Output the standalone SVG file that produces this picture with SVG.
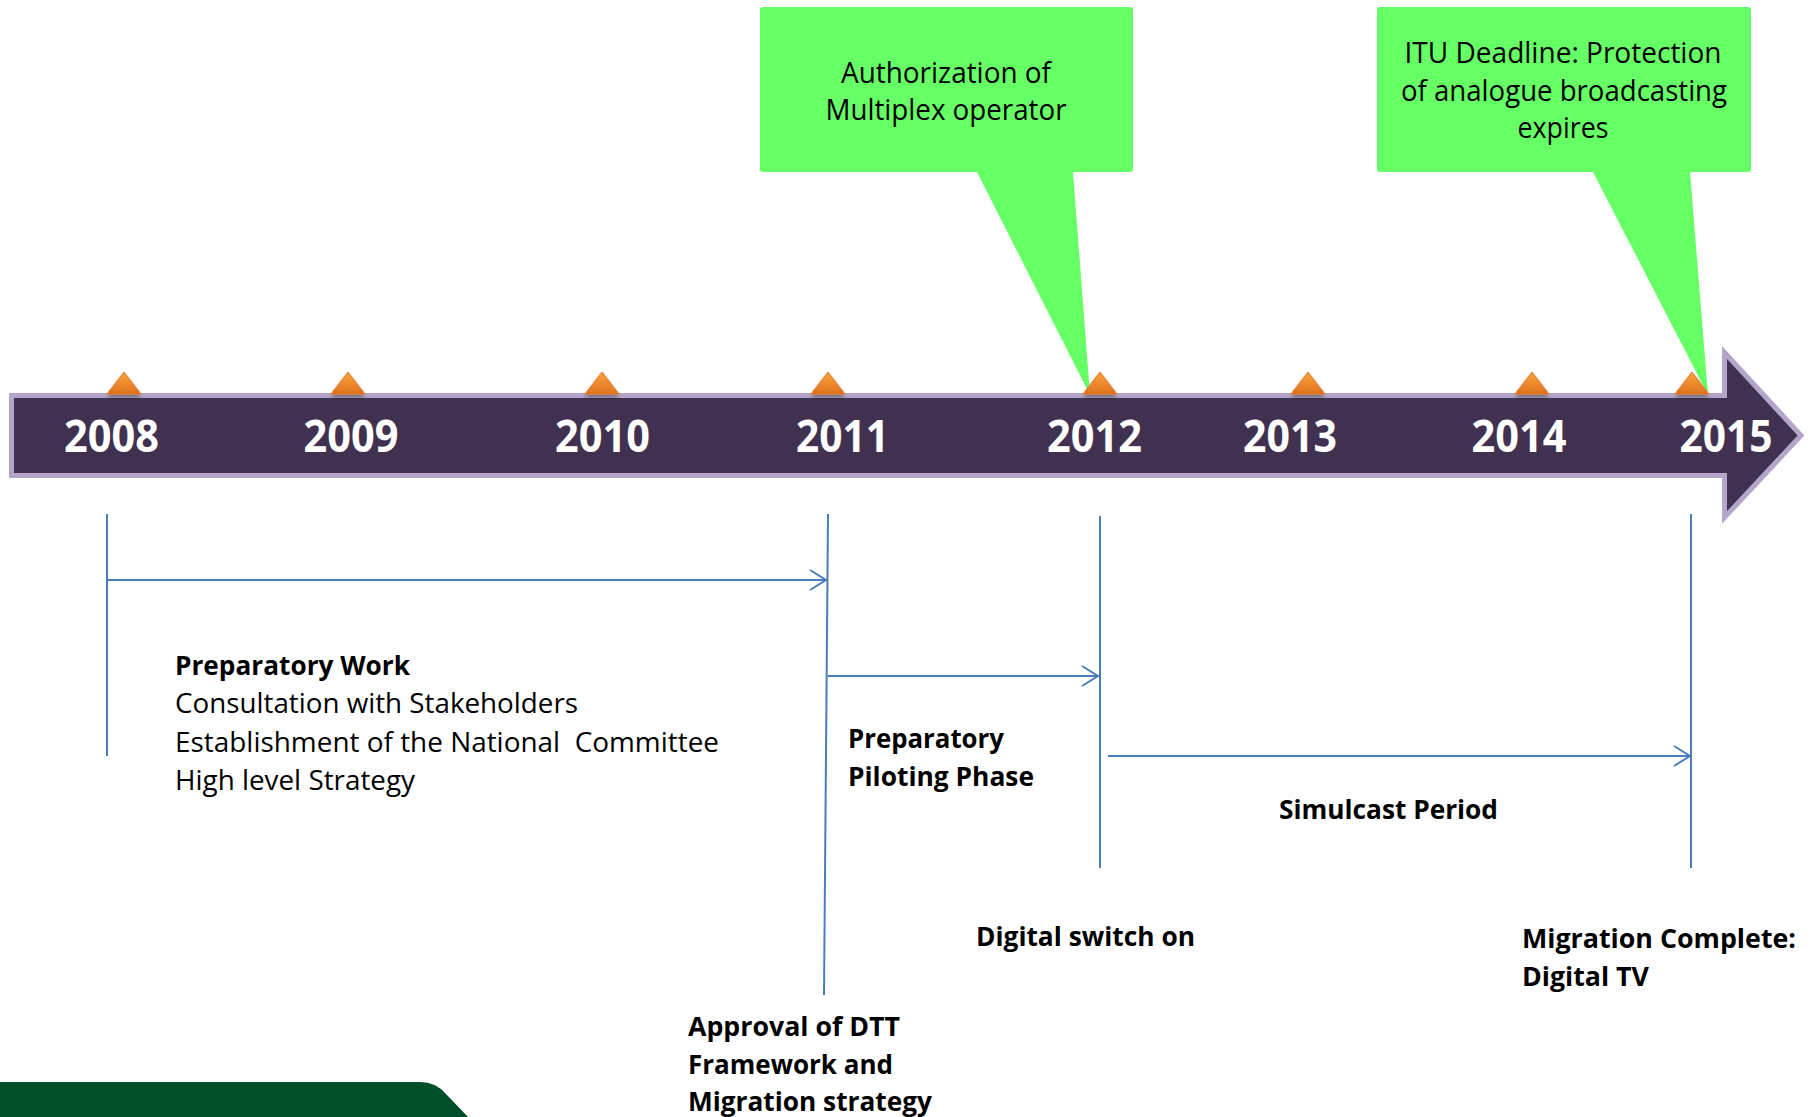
<svg xmlns="http://www.w3.org/2000/svg" width="1810" height="1117" viewBox="0 0 1810 1117">
  <style>
    .year { font-family: "Open Sans", "Liberation Sans", sans-serif; font-weight: 700; font-size: 45px; fill: #ffffff; text-anchor: middle; }
    .call { font-family: "Open Sans", "Liberation Sans", sans-serif; font-size: 28.5px; fill: #000000; text-anchor: middle; }
    .lbl { font-family: "Open Sans", "Liberation Sans", sans-serif; font-size: 27.5px; fill: #000000; }
    .b { font-weight: 700; }
    .conn { stroke: #4a7ebb; stroke-width: 2; fill: none; }
    .tick { fill: url(#triGrad); stroke: #e57a24; stroke-width: 1; filter: url(#shadow); }
    .callout { fill: #66ff66; }
  </style>
  <defs>
    <linearGradient id="triGrad" x1="0" y1="0" x2="0" y2="1">
      <stop offset="0" stop-color="#fba23c"/>
      <stop offset="1" stop-color="#df7220"/>
    </linearGradient>
    <filter id="shadow" x="-30%" y="-30%" width="160%" height="180%">
      <feDropShadow dx="0" dy="3" stdDeviation="2" flood-color="#000000" flood-opacity="0.35"/>
    </filter>
    <marker id="openArrow" markerUnits="userSpaceOnUse" markerWidth="24" markerHeight="24" viewBox="-20 -12 24 24" refX="0" refY="0" orient="auto">
      <path d="M-16,-10 L0,0 L-16,10" fill="none" stroke="#4a7ebb" stroke-width="2"/>
    </marker>
  </defs>

  <rect width="1810" height="1117" fill="#ffffff"/>

  <!-- timeline bar -->
  <g id="timeline-bar">
    <path d="M11.5,395.5 H1724.5 V352.5 L1801,435.5 L1724.5,517.5 V475.5 H11.5 Z" fill="#413151" stroke="#b4a5cb" stroke-width="5" stroke-linejoin="miter"/>
  </g>

  <!-- callouts -->
  <g id="callout-multiplex">
    <path class="callout" d="M763,7 H1130 Q1133,7 1133,10 V169 Q1133,172 1130,172 H1073 L1090,395 L977,172 H763 Q760,172 760,169 V10 Q760,7 763,7 Z"/>
    <text class="call" x="946" y="83" textLength="210" lengthAdjust="spacingAndGlyphs">Authorization of</text>
    <text class="call" x="946" y="120" textLength="241" lengthAdjust="spacingAndGlyphs">Multiplex operator</text>
  </g>
  <g id="callout-itu">
    <path class="callout" d="M1380,7 H1748 Q1751,7 1751,10 V169 Q1751,172 1748,172 H1690 L1708,395 L1593,172 H1380 Q1377,172 1377,169 V10 Q1377,7 1380,7 Z"/>
    <text class="call" x="1563" y="63" textLength="317" lengthAdjust="spacingAndGlyphs">ITU Deadline: Protection</text>
    <text class="call" x="1564" y="101" textLength="326" lengthAdjust="spacingAndGlyphs">of analogue broadcasting</text>
    <text class="call" x="1563" y="138" textLength="91" lengthAdjust="spacingAndGlyphs">expires</text>
  </g>

  <!-- year ticks -->
  <g id="ticks">
    <polygon class="tick" points="124,372 107,394 141,394"/>
    <polygon class="tick" points="348,372 331,394 365,394"/>
    <polygon class="tick" points="602,372 585,394 619,394"/>
    <polygon class="tick" points="828,372 811,394 845,394"/>
    <polygon class="tick" points="1100,372 1083,394 1117,394"/>
    <polygon class="tick" points="1308,372 1291,394 1325,394"/>
    <polygon class="tick" points="1532,372 1515,394 1549,394"/>
    <polygon class="tick" points="1692,372 1675,394 1709,394"/>
  </g>

  <!-- year labels -->
  <g id="years">
    <text class="year" x="111.5" y="452" textLength="95" lengthAdjust="spacingAndGlyphs">2008</text>
    <text class="year" x="351" y="452" textLength="95" lengthAdjust="spacingAndGlyphs">2009</text>
    <text class="year" x="602.5" y="452" textLength="95" lengthAdjust="spacingAndGlyphs">2010</text>
    <text class="year" x="842.5" y="452" textLength="93" lengthAdjust="spacingAndGlyphs">2011</text>
    <text class="year" x="1094.5" y="452" textLength="95" lengthAdjust="spacingAndGlyphs">2012</text>
    <text class="year" x="1290" y="452" textLength="94" lengthAdjust="spacingAndGlyphs">2013</text>
    <text class="year" x="1519" y="452" textLength="95" lengthAdjust="spacingAndGlyphs">2014</text>
    <text class="year" x="1726" y="452" textLength="93" lengthAdjust="spacingAndGlyphs">2015</text>
  </g>

  <!-- connectors -->
  <g id="connectors">
    <line class="conn" x1="107" y1="514" x2="107" y2="756"/>
    <line class="conn" x1="107" y1="580" x2="826" y2="580" marker-end="url(#openArrow)"/>
    <line class="conn" x1="828" y1="514" x2="824" y2="995"/>
    <line class="conn" x1="828" y1="676" x2="1098" y2="676" marker-end="url(#openArrow)"/>
    <line class="conn" x1="1100" y1="516" x2="1100" y2="868"/>
    <line class="conn" x1="1108" y1="756" x2="1690" y2="756" marker-end="url(#openArrow)"/>
    <line class="conn" x1="1691" y1="514" x2="1691" y2="868"/>
  </g>

  <!-- phase labels -->
  <g id="phase-preparatory-work">
    <text class="lbl b" x="175" y="675" textLength="235" lengthAdjust="spacingAndGlyphs">Preparatory Work</text>
    <text class="lbl" x="175" y="713" textLength="403" lengthAdjust="spacingAndGlyphs">Consultation with Stakeholders</text>
    <text class="lbl" x="175" y="752" textLength="544" lengthAdjust="spacingAndGlyphs" xml:space="preserve">Establishment of the National  Committee</text>
    <text class="lbl" x="175" y="790" textLength="240" lengthAdjust="spacingAndGlyphs">High level Strategy</text>
  </g>
  <g id="phase-piloting">
    <text class="lbl b" x="848" y="748" textLength="156" lengthAdjust="spacingAndGlyphs">Preparatory</text>
    <text class="lbl b" x="848" y="786" textLength="186" lengthAdjust="spacingAndGlyphs">Piloting Phase</text>
  </g>
  <g id="phase-simulcast">
    <text class="lbl b" x="1279" y="819" textLength="219" lengthAdjust="spacingAndGlyphs">Simulcast Period</text>
  </g>
  <g id="milestone-approval">
    <text class="lbl b" x="688" y="1036" textLength="212" lengthAdjust="spacingAndGlyphs">Approval of DTT</text>
    <text class="lbl b" x="688" y="1074" textLength="205" lengthAdjust="spacingAndGlyphs">Framework and</text>
    <text class="lbl b" x="688" y="1111" textLength="244" lengthAdjust="spacingAndGlyphs">Migration strategy</text>
  </g>
  <g id="milestone-switch-on">
    <text class="lbl b" x="976" y="946" textLength="219" lengthAdjust="spacingAndGlyphs">Digital switch on</text>
  </g>
  <g id="milestone-complete">
    <text class="lbl b" x="1522" y="948" textLength="274" lengthAdjust="spacingAndGlyphs">Migration Complete:</text>
    <text class="lbl b" x="1522" y="986" textLength="127" lengthAdjust="spacingAndGlyphs">Digital TV</text>
  </g>

  <!-- footer band -->
  <g id="footer-band">
    <path d="M0,1082 H420 Q436,1082 446,1094 L468,1117 H0 Z" fill="#014e2b"/>
  </g>
</svg>
